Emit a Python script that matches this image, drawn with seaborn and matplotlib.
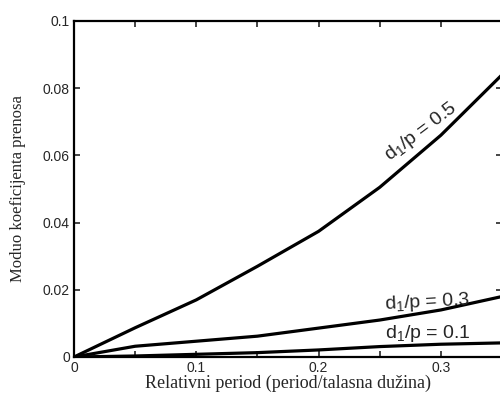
import numpy as np
import pandas as pd
import matplotlib
matplotlib.use("Agg")
import matplotlib.pyplot as plt
import seaborn as sns

# ── Data ──────────────────────────────────────────────────────────────
rel_period = [0.0, 0.05, 0.10, 0.15, 0.20, 0.25, 0.30, 0.35]
mod_d05 = [0.0, 0.0087, 0.0170, 0.0270, 0.0374, 0.0505, 0.0660, 0.0840]
mod_d03 = [0.0, 0.0032, 0.0047, 0.0062, 0.0086, 0.0110, 0.0140, 0.0180]
mod_d01 = [0.0, 0.0003, 0.0008, 0.0013, 0.0021, 0.0031, 0.0038, 0.0042]
series_names = ["0.5", "0.3", "0.1"]

x_ticks = [0.0, 0.1, 0.2, 0.3]
x_ticklabels = ["0", "0.1", "0.2", "0.3"]
x_minor = [0.05, 0.15, 0.25]
y_ticks = [0.0, 0.02, 0.04, 0.06, 0.08, 0.1]
y_ticklabels = ["0", "0.02", "0.04", "0.06", "0.08", "0.1"]

df = pd.concat([
    pd.DataFrame({"x": rel_period, "y": vals, "d1p": name})
    for name, vals in zip(series_names, [mod_d05, mod_d03, mod_d01])
])

# ── Style ─────────────────────────────────────────────────────────────
sns.set_style("ticks")
plt.rcParams["font.family"] = ["Liberation Sans", "DejaVu Sans"]
plt.rcParams["mathtext.default"] = "regular"

fig = plt.figure(figsize=(5.0, 3.94), dpi=100)
# axes run slightly past the right edge, like the cropped original
ax = fig.add_axes([74 / 500, 37 / 394, 428 / 500, 336 / 394])

sns.lineplot(data=df, x="x", y="y", units="d1p", estimator=None,
             color="black", lw=2.3, ax=ax, legend=False)

ax.set_xlim(0, 0.35)
ax.set_ylim(0, 0.1)
ax.set_xticks(x_ticks, x_ticklabels)
ax.set_xticks(x_minor, minor=True)
ax.set_yticks(y_ticks, y_ticklabels)
ax.tick_params(which="both", direction="in", top=True, right=True,
               length=4, width=1.2, labelsize=10, pad=3)
for sp in ax.spines.values():
    sp.set_linewidth(1.6)
    sp.set_color("black")

serif = ["Liberation Serif", "DejaVu Serif"]
ax.set_xlabel("Relativni period (period/talasna dužina)", family=serif,
              fontsize=13, labelpad=0)
ax.set_ylabel("Moduo koeficijenta prenosa", family=serif, fontsize=12,
              labelpad=12)

# curve labels
ax.text(0.2836, 0.067, "d$_1$/p = 0.5", fontsize=14, rotation=37,
        ha="center", va="center")
ax.text(0.289, 0.0162, "d$_1$/p = 0.3", fontsize=14, rotation=3,
        ha="center", va="center")
ax.text(0.289, 0.0070, "d$_1$/p = 0.1", fontsize=14,
        ha="center", va="center")

fig.savefig("out.png", dpi=100)
